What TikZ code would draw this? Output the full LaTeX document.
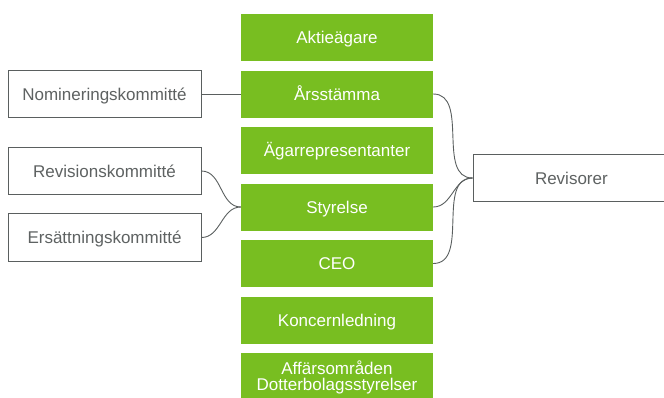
\documentclass[tikz,border=0pt]{standalone}
\usepackage{fontspec}
\setmainfont{Liberation Sans}
\definecolor{gr}{HTML}{78BE21}
\definecolor{tx}{HTML}{5E6262}
\definecolor{ln}{HTML}{5A5F5F}
\begin{document}
\begin{tikzpicture}[x=1pt,y=-1pt,
  greenbox/.style={draw=none,fill=gr,text=white,minimum width=192pt,minimum height=47pt,inner sep=0pt,
    font=\fontsize{17}{16}\selectfont,text height=12.2pt,text depth=0pt},
  whitebox/.style={draw=ln,line width=0.9pt,fill=white,text=tx,minimum width=193pt,minimum height=47.5pt,inner sep=0pt,
    font=\fontsize{17}{16}\selectfont,text height=12.2pt,text depth=0pt},
  conn/.style={draw=ln,line width=0.9pt}]
\useasboundingbox (0,0) rectangle (664,397);
\node[greenbox] (akt) at (337,37.5) {Aktieägare};
\node[greenbox] (ars) at (337,94) {Årsstämma};
\node[greenbox] (aga) at (337,150.5) {Ägarrepresentanter};
\node[greenbox] (sty) at (337,207) {Styrelse};
\node[greenbox] (ceo) at (337,263.5) {CEO};
\node[greenbox] (kon) at (337,320) {Koncernledning};
\node[greenbox] (aff) at (337,376.5) {};
\node[text=white,font=\fontsize{17}{16}\selectfont,anchor=base] (aff1) at (337,374) {Affärsområden};
\node[text=white,font=\fontsize{17}{16}\selectfont,anchor=base] (aff2) at (337,390) {Dotterbolagsstyrelser};
\node[whitebox] (nom) at (104.5,94) {Nomineringskommitté};
\node[whitebox] (rev) at (104.5,171) {Revisionskommitté};
\node[whitebox] (ers) at (104.5,237.5) {Ersättningskommitté};
\node[whitebox,minimum width=200pt,text width=200pt,align=left] (rvs) at (573,178) {\hspace*{62pt}Revisorer};
\draw[conn] (nom.east) -- (ars.west);
\draw[conn] (rev.east) to[out=0,in=180] (sty.west);
\draw[conn] (ers.east) to[out=0,in=180] (sty.west);
\draw[conn] (ars.east) to[out=0,in=180] (rvs.west);
\draw[conn] (sty.east) to[out=0,in=180] (rvs.west);
\draw[conn] (ceo.east) to[out=0,in=180] (rvs.west);
\end{tikzpicture}
\end{document}
